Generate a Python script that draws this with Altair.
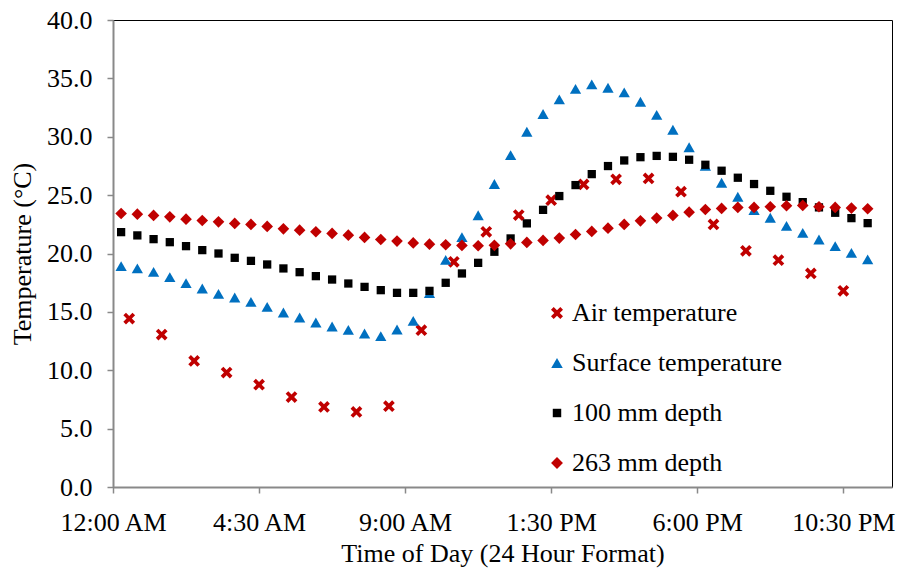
import altair as alt
import pandas as pd

# Series names (legend order)
series_names = ["Air temperature", "Surface temperature", "100 mm depth", "263 mm depth"]

# Sampling times in hours after midnight
air_hours = [0.5 + i for i in range(23)]
soil_hours = [0.25 + 0.5 * i for i in range(47)]

# Hourly air temperature (°C)
air_temp = [14.43, 13.06, 10.80, 9.80, 8.76, 7.70, 6.86, 6.43, 6.92, 13.43,
            19.29, 21.86, 23.29, 24.57, 25.92, 26.35, 26.43, 25.29, 22.49, 20.23,
            19.43, 18.29, 16.80]

# Half-hourly surface temperature (°C)
surface_temp = [18.92, 18.72, 18.43, 17.97, 17.46, 17.00, 16.54, 16.23, 15.86, 15.43,
                14.95, 14.52, 14.09, 13.75, 13.46, 13.15, 12.92, 13.49, 14.23, 16.60,
                19.46, 21.40, 23.28, 25.95, 28.43, 30.43, 31.95, 33.20, 34.10, 34.49,
                34.20, 33.80, 33.00, 31.88, 30.60, 29.10, 27.50, 26.06, 24.86, 23.72,
                23.06, 22.37, 21.77, 21.20, 20.63, 20.06, 19.49]

# Half-hourly temperature at 100 mm depth (°C)
depth_100 = [21.83, 21.55, 21.23, 20.97, 20.63, 20.29, 20.00, 19.63, 19.37, 19.06,
             18.72, 18.40, 18.06, 17.77, 17.43, 17.14, 16.86, 16.63, 16.63, 16.80,
             17.49, 18.29, 19.20, 20.15, 21.29, 22.58, 23.74, 24.92, 25.86, 26.80,
             27.49, 27.97, 28.25, 28.36, 28.28, 28.03, 27.60, 27.09, 26.49, 25.95,
             25.37, 24.86, 24.40, 23.95, 23.49, 23.03, 22.60]

# Half-hourly temperature at 263 mm depth (°C)
depth_263 = [23.43, 23.37, 23.26, 23.14, 22.94, 22.83, 22.71, 22.58, 22.49, 22.32,
             22.11, 22.00, 21.86, 21.72, 21.57, 21.38, 21.20, 21.06, 20.91, 20.80,
             20.75, 20.69, 20.66, 20.70, 20.83, 20.95, 21.12, 21.32, 21.63, 21.89,
             22.17, 22.49, 22.80, 23.03, 23.26, 23.54, 23.77, 23.86, 23.95, 23.95,
             24.00, 24.09, 24.12, 24.00, 23.95, 23.89, 23.83]

# X-axis tick positions (hours) and their labels
tick_hours = [0, 4.5, 9, 13.5, 18, 22.5]
tick_labels = ["12:00 AM", "4:30 AM", "9:00 AM", "1:30 PM", "6:00 PM", "10:30 PM"]

# Y-axis ticks
y_ticks = [0, 5, 10, 15, 20, 25, 30, 35, 40]

frames = []
for name, hours, vals in zip(series_names,
                             [air_hours, soil_hours, soil_hours, soil_hours],
                             [air_temp, surface_temp, depth_100, depth_263]):
    frames.append(pd.DataFrame({"hour": hours, "temp": vals, "series": name}))
df = pd.concat(frames, ignore_index=True)

# Marker outlines in symbol units (one unit = sqrt(size) / 2 pixels)
marker_x = ("M-0.98,-0.54 L-0.54,-0.98 L0,-0.44 L0.54,-0.98 L0.98,-0.54 L0.44,0 "
            "L0.98,0.54 L0.54,0.98 L0,0.44 L-0.54,0.98 L-0.98,0.54 L-0.44,0 Z")
marker_triangle = "M0,-0.82 L0.94,0.82 L-0.94,0.82 Z"
marker_square = "M-0.69,-0.69 L0.69,-0.69 L0.69,0.69 L-0.69,0.69 Z"
marker_diamond = "M0,-0.97 L0.97,0 L0,0.97 L-0.97,0 Z"

label_map = "[" + ",".join("'" + t + "'" for t in tick_labels) + "]"

FONT = "Liberation Serif"

chart = alt.Chart(df).mark_point(filled=True, opacity=1, strokeWidth=0, size=144).encode(
    x=alt.X("hour:Q",
            scale=alt.Scale(domain=[0, 24], nice=False, zero=False),
            axis=alt.Axis(values=tick_hours,
                          labelExpr=label_map + "[round(datum.value / 4.5)]",
                          title="Time of Day (24 Hour Format)",
                          labelBaseline="alphabetic",
                          labelPadding=37,
                          titleY=66, titleBaseline="middle")),
    y=alt.Y("temp:Q",
            scale=alt.Scale(domain=[0, 40], nice=False),
            axis=alt.Axis(values=y_ticks, format=".1f",
                          title="Temperature (°C)",
                          labelPadding=15,
                          titleX=-91, titleY=233.5,
                          titleAlign="center", titleBaseline="middle",
                          titleAngle=270)),
    color=alt.Color("series:N",
                    scale=alt.Scale(domain=series_names,
                                    range=["#C00000", "#0070C0", "#000000", "#C00000"]),
                    legend=alt.Legend(title=None, orient="none",
                                      legendX=431, legendY=280,
                                      symbolSize=150, labelOffset=2,
                                      rowPadding=24, padding=0,
                                      symbolStrokeWidth=0,
                                      labelFont=FONT, labelFontSize=26,
                                      labelColor="#000000", labelLimit=400)),
    shape=alt.Shape("series:N",
                    scale=alt.Scale(domain=series_names,
                                    range=[marker_x, marker_triangle,
                                           marker_square, marker_diamond])),
).properties(
    width=779,
    height=467,
    autosize="none",
    background="#ffffff",
    padding={"left": 113, "top": 20, "right": 7, "bottom": 88},
).configure_view(
    stroke="#000000", strokeWidth=1
).configure_axis(
    grid=False,
    domainColor="#898989", domainWidth=2,
    tickColor="#898989", tickWidth=1.5, tickSize=6,
    labelFont=FONT, labelFontSize=26, labelColor="#000000",
    titleFont=FONT, titleFontSize=26, titleFontWeight="normal", titleColor="#000000",
    labelFlush=False, labelOverlap=False,
)

chart.save("out.html", embed_options={"renderer": "svg", "actions": False})
